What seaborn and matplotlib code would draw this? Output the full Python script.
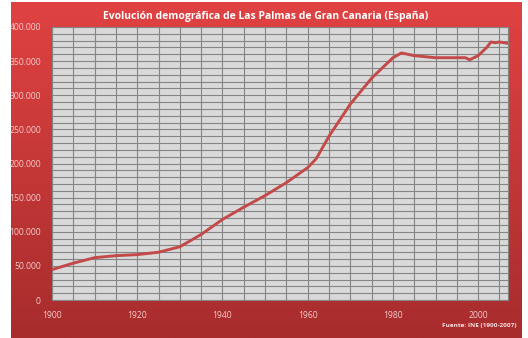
import numpy as np
import pandas as pd
import matplotlib
matplotlib.use("Agg")
import matplotlib.pyplot as plt
from matplotlib.ticker import MultipleLocator, FuncFormatter
import seaborn as sns

# Population of Las Palmas de Gran Canaria, 1900-2007
years = [1900, 1905, 1910, 1915, 1920, 1925, 1930, 1935, 1940, 1945,
         1950, 1955, 1960, 1962, 1965, 1970, 1975, 1980, 1982, 1985,
         1990, 1995, 1997, 1998, 2000, 2002, 2003, 2004, 2005, 2007]
population = [44500, 54000, 62000, 65000, 66500, 70000, 78000, 96000, 118000, 136000,
              153000, 172000, 194000, 207000, 240000, 287000, 325000, 355000, 362000, 358000,
              355000, 355000, 355000, 352000, 358000, 370000, 378000, 377000, 378000, 376000]

x_ticks = [1900, 1920, 1940, 1960, 1980, 2000]
y_ticks = [0, 50000, 100000, 150000, 200000, 250000, 300000, 350000, 400000]

title = "Evolución demográfica de Las Palmas de Gran Canaria (España)"
source = "Fuente: INE (1900-2007)"

df = pd.DataFrame({"Año": years, "Población": population})

sns.set_theme(style="white")
plt.rcParams["font.family"] = ["Open Sans", "DejaVu Sans"]

W, H = 528, 338
fig = plt.figure(figsize=(W / 100, H / 100), dpi=100)
fig.patch.set_facecolor("white")

# Red gradient panel behind the chart
bg = fig.add_axes([11 / W, 0, (522 - 11) / W, (H - 2) / H])
top = np.array([224, 66, 66]) / 255
bottom = np.array([168, 44, 44]) / 255
t = np.linspace(0, 1, 256)[:, None]
grad = (top[None, :] * (1 - t) + bottom[None, :] * t)[:, None, :]
bg.imshow(grad, aspect="auto", extent=[0, 1, 0, 1], interpolation="bilinear")
bg.set_axis_off()

# Plot area
ax = fig.add_axes([52 / W, (H - 300) / H, 456 / W, 273 / H])
ax.set_facecolor("#d9d9d9")
sns.lineplot(data=df, x="Año", y="Población", ax=ax, color="#c44a4a",
             linewidth=2.1, zorder=3)

ax.set_xlim(1900, 2007)
ax.set_ylim(0, 400000)
ax.xaxis.set_minor_locator(MultipleLocator(5))
ax.yaxis.set_minor_locator(MultipleLocator(10000))
ax.set_xticks(x_ticks)
ax.set_yticks(y_ticks)
ax.yaxis.set_major_formatter(FuncFormatter(lambda v, p: f"{int(v):,}".replace(",", ".")))
ax.grid(True, which="both", color="#858585", linewidth=0.8)
ax.set_axisbelow(True)
for s in ax.spines.values():
    s.set_color("#858585")
    s.set_linewidth(0.8)

label_color = "#f3caca"
ax.tick_params(axis="both", which="both", length=0, labelsize=6.2, colors=label_color)
ax.tick_params(axis="y", pad=8)
ax.tick_params(axis="x", pad=8)
ax.set_xlabel("")
ax.set_ylabel("")

fig.text(266 / W, 1 - 16 / H, title, ha="center", va="center", color="white",
         fontsize=7.5, fontweight="bold")
fig.text(517 / W, 1 - 326 / H, source, ha="right", va="center", color="#f8e0e0",
         fontsize=4.6, fontweight="bold")

fig.savefig("out.png", dpi=100)
